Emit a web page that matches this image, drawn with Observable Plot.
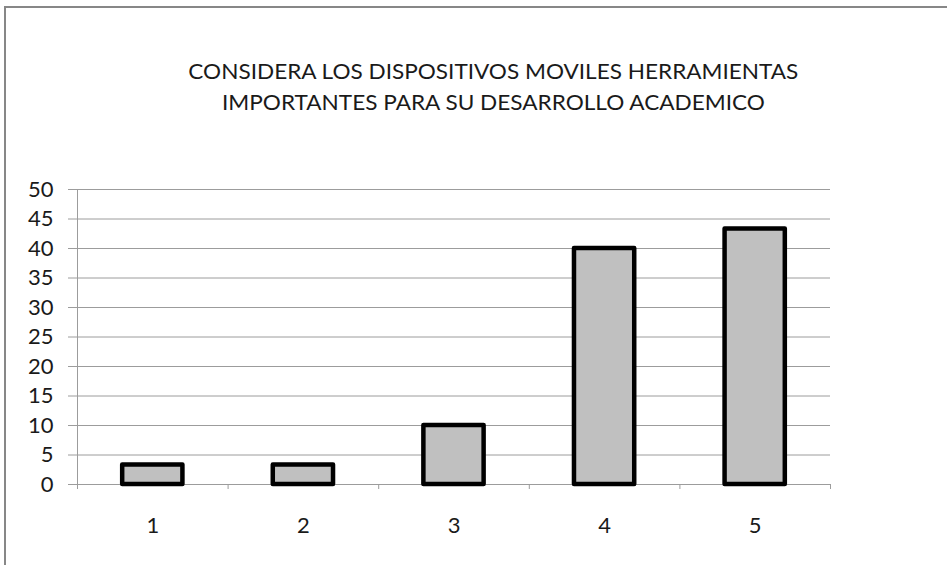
<!DOCTYPE html>
<html>
<head>
<meta charset="utf-8">
<script src="https://cdn.jsdelivr.net/npm/d3@7"></script>
<script src="https://cdn.jsdelivr.net/npm/@observablehq/plot@0.6"></script>
<style>
  html, body { margin: 0; padding: 0; background: #fff; overflow: hidden; width: 947px; height: 565px; }
  #frame { position: absolute; left: 4px; top: 6px; width: 1100px; height: 700px; border: 2px solid #878787; box-sizing: border-box; }
  #title { position: absolute; left: 0; top: 55px; width: 986px; text-align: center; font-family: Lato, sans-serif; font-size: 22px; line-height: 31px; color: #1a1a1a; }
  #title div { white-space: nowrap; }
  #chart { position: absolute; left: 0; top: 0; }
</style>
</head>
<body>
<div id="frame"></div>
<div id="title"></div>
<div id="chart"></div>
<script>
const titleLines = ["CONSIDERA LOS DISPOSITIVOS MOVILES HERRAMIENTAS", "IMPORTANTES PARA SU DESARROLLO ACADEMICO"];
const categories = [1, 2, 3, 4, 5];
const values = [3.3, 3.3, 10, 40, 43.3];
const yTicks = [0, 5, 10, 15, 20, 25, 30, 35, 40, 45, 50];
const barHalfWidth = 0.2;

const titleEl = document.getElementById("title");
const targetWidths = [610, 543];
titleLines.forEach((t, i) => {
  const d = document.createElement("div");
  const s = document.createElement("span");
  s.textContent = t;
  s.style.display = "inline-block";
  d.appendChild(s);
  titleEl.appendChild(d);
  const w = s.getBoundingClientRect().width;
  s.style.transform = `scaleX(${targetWidths[i] / w})`;
});

const data = categories.map((c, i) => ({cat: c, value: values[i]}));
const grid = "#9c9c9c";

const chart = Plot.plot({
  width: 947,
  height: 565,
  marginLeft: 77,
  marginRight: 117,
  marginTop: 189,
  marginBottom: 81,
  style: {fontFamily: "Lato, sans-serif", fontSize: "22px", color: "#1a1a1a", background: "transparent"},
  x: {domain: [0.5, 5.5], axis: null},
  y: {domain: [0, 50], axis: null},
  marks: [
    Plot.gridY(yTicks, {stroke: grid, strokeOpacity: 1, strokeWidth: 1}),
    Plot.axisY(yTicks, {tickSize: 9, tickPadding: 15, stroke: grid, strokeOpacity: 1, fill: "#1a1a1a", fontSize: 22, label: null}),
    Plot.ruleX([0.5], {stroke: grid, strokeWidth: 1}),
    Plot.ruleY([0], {stroke: grid, strokeWidth: 1}),
    Plot.axisX([0.5, 1.5, 2.5, 3.5, 4.5, 5.5], {tickSize: 5, tickFormat: () => "", stroke: grid, strokeOpacity: 1, label: null}),
    Plot.axisX(categories, {tickSize: 0, tickPadding: 33, tickFormat: d3.format("d"), fill: "#1a1a1a", fontSize: 22, label: null}),
    Plot.rectY(data, {x1: d => d.cat - barHalfWidth, x2: d => d.cat + barHalfWidth, y1: 0, y2: "value", fill: "#c0c0c0", stroke: "#000", strokeWidth: 4.5, strokeLinejoin: "round"})
  ]
});
document.getElementById("chart").appendChild(chart);
</script>
</body>
</html>
